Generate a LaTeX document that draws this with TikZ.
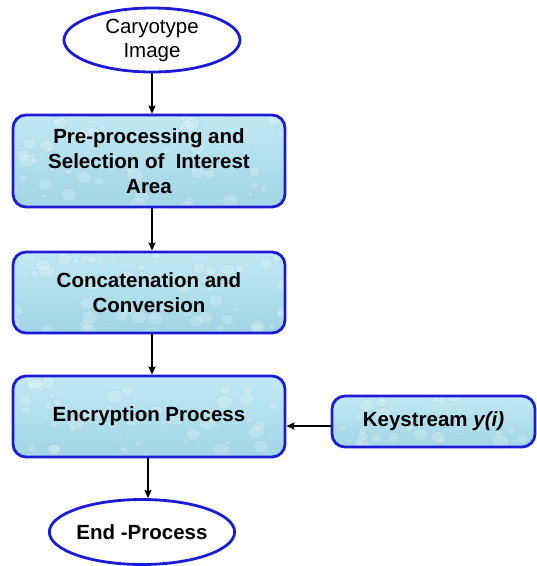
\documentclass[tikz,border=0pt]{standalone}
\usepackage{fontspec}
\setmainfont{Liberation Sans}
\usetikzlibrary{shapes.geometric,arrows.meta,calc}
\definecolor{edgeblue}{RGB}{28,28,215}
\definecolor{boxfill}{RGB}{162,214,230}
\definecolor{boxfilltop}{RGB}{192,232,243}
\definecolor{dropedge}{RGB}{120,175,200}
\begin{document}
\begin{tikzpicture}[x=1pt,y=-1pt,
  droplets/.style={path picture={
    \foreach \i in {1,...,#1}{
      \pgfmathsetmacro\u{rnd}\pgfmathsetmacro\v{rnd}\pgfmathsetmacro\r{2+7*rnd}
      \path let \p1=(path picture bounding box.south west),
                \p2=(path picture bounding box.north east) in
        coordinate (dc) at ({\x1+\u*(\x2-\x1)},{\y1+\v*(\y2-\y1)});
      \fill[white,opacity=0.18] (dc) ellipse ({\r*1pt} and {\r*0.8pt});
      \draw[dropedge,opacity=0.25,line width=0.5pt] (dc) ellipse ({\r*1pt} and {\r*0.8pt});
    }}},
  procbox/.style={draw=edgeblue,line width=2.8pt,rounded corners=13pt,
    top color=boxfilltop,bottom color=boxfill,align=center,
    font=\bfseries\fontsize{20.5}{25}\selectfont,inner sep=0pt},
  termnode/.style={ellipse,draw=edgeblue,line width=2.8pt,fill=white,align=center,
    inner sep=0pt,font=\fontsize{20.5}{24}\selectfont},
  flow/.style={-{Stealth[length=8pt,width=7pt,inset=1pt]},line width=1.8pt,black}]
\pgfmathsetseed{7}
\useasboundingbox (0,0) rectangle (537,566);
\fill[white] (0,0) rectangle (537,566);
\node[termnode,minimum width=176pt,minimum height=64pt] (start) at (152,40) {Caryotype\\Image};
\node[procbox,droplets=60,minimum width=272pt,minimum height=92pt] (pre) at (149,161) {Pre-processing and\\Selection of\ \ Interest\\Area};
\node[procbox,droplets=55,minimum width=272pt,minimum height=81pt] (conc) at (149,292.5) {Concatenation and\\Conversion};
\node[procbox,droplets=55,minimum width=272pt,minimum height=81pt] (enc) at (149,416.5) {Encryption Process};
\node[procbox,droplets=35,minimum width=203pt,minimum height=51pt] (key) at (433.5,421.5) {Keystream \textit{y(i)}};
\node[termnode,font=\bfseries\fontsize{20.5}{24}\selectfont,minimum width=174pt,minimum height=65pt] (end) at (142,532) {End -Process};
\draw[flow] (start.south) -- (pre.north -| start.south);
\draw[flow] (pre.south -| start.south) -- (conc.north -| start.south);
\draw[flow] (conc.south -| start.south) -- (enc.north -| start.south);
\draw[flow] (key.west |- 0,426) -- (enc.east |- 0,426);
\draw[flow] (enc.south -| 148,0) -- (end.north -| 148,0);
\end{tikzpicture}
\end{document}
